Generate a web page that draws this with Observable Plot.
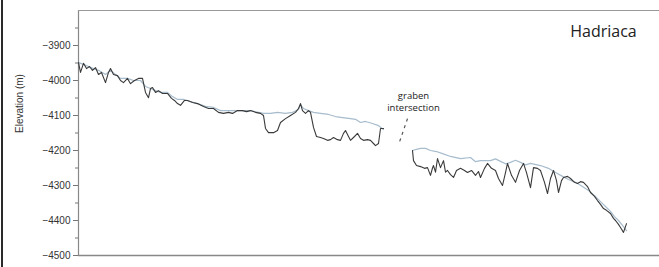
<!DOCTYPE html>
<html><head><meta charset="utf-8">
<script src="https://cdn.jsdelivr.net/npm/d3@7"></script>
<script src="https://cdn.jsdelivr.net/npm/@observablehq/plot@0.6"></script>
<style>
body{margin:0;background:#fff;}
#chart{position:relative;width:659px;height:267px;}
#chart svg{display:block;}
#edge{position:absolute;left:1px;top:0;width:2px;height:267px;background:#2a2a2a;}
</style>
</head><body><div id="chart"><div id="edge"></div></div>
<script>
// Profile distance (arbitrary units along track) and elevation (m)
const darkDist1 = [0,2,5,8,11,14,17,20,23,27,30,32,35,39,42,45,49,52,56,60,64,67,70,72,74,77,80,84,89,93,96,99,102,106,109,114,119,125,130,135,140,145,150,154,159,164,168,172,177,182,185,187,190,195,199,202,207,212,217,220,222,224,227,230,232,235,238,242,245,249,252,255,259,262,265,267,270,272,276,279,282,285,289,292,295,297,300,302,305];
const darkElev1 = [-3949,-3977,-3951,-3966,-3960,-3971,-3963,-3983,-3977,-4006,-3977,-3966,-3983,-3986,-4000,-4006,-3994,-4009,-4000,-3994,-3994,-4034,-4049,-4023,-4020,-4034,-4029,-4037,-4037,-4051,-4057,-4066,-4071,-4057,-4057,-4063,-4066,-4074,-4080,-4080,-4091,-4094,-4091,-4094,-4086,-4086,-4089,-4086,-4091,-4094,-4100,-4137,-4149,-4149,-4143,-4120,-4109,-4100,-4091,-4080,-4066,-4086,-4094,-4086,-4091,-4134,-4160,-4163,-4166,-4171,-4169,-4163,-4169,-4171,-4151,-4143,-4160,-4171,-4160,-4151,-4166,-4171,-4169,-4171,-4180,-4186,-4180,-4137,-4137];

const lightDist1 = [0,5,10,15,20,27,32,37,42,49,55,62,67,72,77,82,89,94,99,105,112,119,127,135,142,150,157,164,172,180,185,192,199,207,214,220,222,225,230,235,242,250,257,264,272,277,282,287,294,300,305];
const lightElev1 = [-3949,-3954,-3960,-3966,-3971,-3983,-3971,-3983,-3994,-3994,-4000,-4000,-4017,-4023,-4029,-4034,-4034,-4046,-4054,-4054,-4060,-4066,-4074,-4077,-4086,-4086,-4086,-4086,-4086,-4091,-4094,-4094,-4091,-4094,-4091,-4083,-4069,-4080,-4086,-4091,-4094,-4097,-4103,-4106,-4109,-4111,-4120,-4117,-4123,-4129,-4140];

const darkDist2 = [334,335,338,342,346,349,352,354,355,357,359,362,365,367,369,372,375,378,382,386,389,393,397,400,402,406,409,413,417,420,424,427,429,433,437,441,445,448,452,455,459,462,466,469,472,475,478,480,483,485,489,492,496,499,502,505,509,512,516,519,522,525,528,532,535,537,540,542,545,548];
const darkElev2 = [-4200,-4229,-4243,-4246,-4251,-4249,-4271,-4250,-4243,-4262,-4223,-4249,-4229,-4262,-4257,-4269,-4277,-4257,-4251,-4257,-4263,-4257,-4271,-4260,-4277,-4251,-4237,-4251,-4257,-4280,-4300,-4263,-4237,-4271,-4291,-4257,-4237,-4263,-4306,-4249,-4251,-4257,-4291,-4323,-4280,-4257,-4286,-4320,-4286,-4277,-4274,-4280,-4291,-4294,-4289,-4291,-4303,-4320,-4331,-4343,-4354,-4366,-4371,-4380,-4394,-4400,-4411,-4420,-4434,-4409];

const lightDist2 = [334,338,342,347,352,358,364,372,382,392,397,402,412,417,422,427,432,437,442,447,452,462,470,477,484,490,497,504,510,516,522,527,532,536,540,544,548];
const lightElev2 = [-4200,-4197,-4194,-4194,-4200,-4203,-4209,-4217,-4223,-4220,-4232,-4229,-4229,-4224,-4231,-4238,-4234,-4228,-4234,-4241,-4237,-4243,-4251,-4263,-4274,-4283,-4291,-4303,-4314,-4329,-4346,-4360,-4374,-4389,-4400,-4414,-4429];

const majorTicks = [-4500,-4400,-4300,-4200,-4100,-4000,-3900];
const minorTicks = [-4450,-4350,-4250,-4150,-4050,-3950,-3850];
const xDomain = [0, 581];
const yDomain = [-4500, -3800];

const regionLabel = {text: "Hadriaca", dist: 525, elev: -3860};
const grabenLabel = {text: "graben\nintersection", dist: 335, elev: -4060};
const grabenDash = {dist1: 329, elev1: -4109, dist2: 320, elev2: -4184};

const toRows = (d, e, seg) => d.map((v, i) => ({dist: v, elev: e[i], seg}));
const dark = [...toRows(darkDist1, darkElev1, 1), ...toRows(darkDist2, darkElev2, 2)];
const light = [...toRows(lightDist1, lightElev1, 1), ...toRows(lightDist2, lightElev2, 2)];

const chart = Plot.plot({
  width: 659,
  height: 267,
  marginLeft: 78,
  marginRight: 0,
  marginTop: 10,
  marginBottom: 12,
  style: {fontFamily: "'Liberation Sans', Arial, sans-serif", fontSize: "10px", color: "#333", background: "#fff"},
  x: {domain: xDomain, axis: null},
  y: {domain: yDomain},
  marks: [
    Plot.axisY({ticks: minorTicks, tickSize: 3, text: null, stroke: "#777", label: null}),
    Plot.axisY({ticks: majorTicks, tickSize: 5, tickPadding: 3, stroke: "#777", fill: "#333", tickFormat: d3.format("d"), label: null}),
    Plot.ruleX([xDomain[0]], {stroke: "#888", strokeWidth: 1.2}),
    Plot.ruleY([yDomain[0]], {stroke: "#888", strokeWidth: 1.3}),
    Plot.ruleY([yDomain[1]], {stroke: "#999", strokeWidth: 1.2}),
    Plot.line(light, {x: "dist", y: "elev", z: "seg", stroke: "#a7bccc", strokeWidth: 1.2}),
    Plot.line(dark, {x: "dist", y: "elev", z: "seg", stroke: "#3a3a3a", strokeWidth: 1.1}),
    Plot.link([grabenDash], {x1: "dist1", y1: "elev1", x2: "dist2", y2: "elev2", stroke: "#555", strokeWidth: 1.2, strokeDasharray: "3,4"}),
    Plot.text([grabenLabel], {x: "dist", y: "elev", text: "text", fontSize: 9.5, fill: "#222", fontFamily: "'Open Sans', sans-serif", lineHeight: 1.25}),
    Plot.text([regionLabel], {x: "dist", y: "elev", text: "text", fontSize: 16, fill: "#222", fontFamily: "'Open Sans', sans-serif"}),
    Plot.text(["Elevation (m)"], {frameAnchor: "left", dx: -59, rotate: -90, fontSize: 10, fill: "#333"})
  ]
});
document.getElementById("chart").prepend(chart);
</script></body></html>
